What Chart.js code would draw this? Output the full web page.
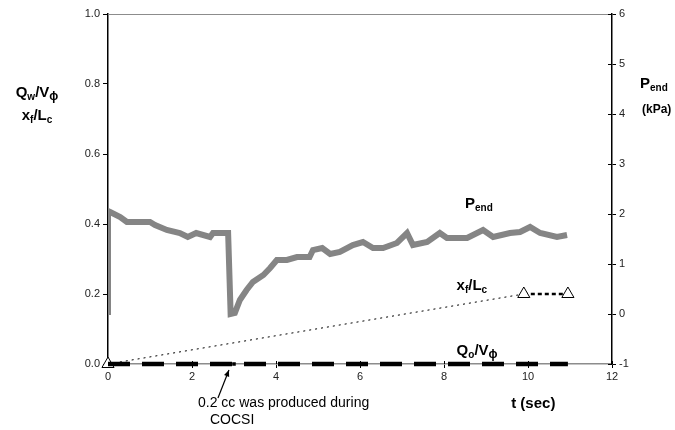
<!DOCTYPE html>
<html>
<head>
<meta charset="utf-8">
<script src="https://cdn.jsdelivr.net/npm/chart.js@4.4.1/dist/chart.umd.min.js"></script>
<style>
  body { margin: 0; background: #fff; }
  #wrap { width: 675px; height: 430px; position: relative; }
</style>
</head>
<body>
<div id="wrap"><canvas id="chart"></canvas></div>
<script>
// P_end (kPa, right axis)
const pendTime = [0, 0, 0.05, 0.29, 0.45, 1.0, 1.12, 1.4, 1.71, 1.9, 2.1, 2.43, 2.5, 2.86, 2.92, 3.02, 3.14, 3.3, 3.45, 3.7, 3.86, 4.02, 4.26, 4.5, 4.8, 4.88, 5.1, 5.29, 5.52, 5.83, 6.07, 6.31, 6.55, 6.88, 7.12, 7.26, 7.6, 7.9, 8.07, 8.55, 8.93, 9.17, 9.57, 9.81, 10.05, 10.29, 10.69, 10.93];
const pendKPa = [-0.02, 2.06, 2.04, 1.94, 1.84, 1.84, 1.78, 1.68, 1.62, 1.54, 1.62, 1.54, 1.62, 1.62, 0.0, 0.02, 0.28, 0.48, 0.64, 0.78, 0.92, 1.08, 1.08, 1.14, 1.14, 1.28, 1.32, 1.2, 1.24, 1.38, 1.44, 1.32, 1.32, 1.42, 1.62, 1.38, 1.44, 1.62, 1.52, 1.52, 1.68, 1.54, 1.62, 1.64, 1.74, 1.62, 1.54, 1.58];

// x_f / L_c (left axis)
const xfTime = [0, 9.9, 10.95];
const xfValue = [0, 0.2, 0.2];

// Q_o / V_phi (left axis), small marker where 0.2 cc came out
const qoTime = [0, 3.0, 10.95];
const qoValue = [0, 0, 0];
const qoMarker = [0, 2.5, 0];

const xTicks = [0, 2, 4, 6, 8, 10, 12];
const leftTicks = [0, 0.2, 0.4, 0.6, 0.8, 1.0];
const rightTicks = [-1, 0, 1, 2, 3, 4, 5, 6];

function toPoints(xs, ys) {
    return xs.map((x, i) => ({ x: x, y: ys[i] }));
}

// draws text pieces like "Q" + subscript "w" + "/V" ...
function drawParts(ctx, parts, x, y, align) {
    let total = 0;
    parts.forEach(p => { ctx.font = p.font; total += ctx.measureText(p.text).width; });
    let cx = align === 'center' ? x - total / 2 : x;
    ctx.textAlign = 'left';
    ctx.textBaseline = 'alphabetic';
    parts.forEach(p => {
        ctx.font = p.font;
        ctx.fillText(p.text, cx, y + (p.dy || 0));
        cx += ctx.measureText(p.text).width;
    });
}

const B15 = 'bold 15px "Liberation Sans", Arial, sans-serif';
const B10 = 'bold 10px "Liberation Sans", Arial, sans-serif';
const B12 = 'bold 12px "Liberation Sans", Arial, sans-serif';

const decorations = {
    id: 'decorations',
    beforeDatasetsDraw(chart) {
        const ctx = chart.ctx;
        const a = chart.chartArea;
        const xs = chart.scales.x, y2 = chart.scales.y2;
        ctx.save();
        // grey frame line on top
        ctx.strokeStyle = '#8c8c8c';
        ctx.lineWidth = 1;
        ctx.beginPath();
        ctx.moveTo(a.left, a.top + 0.5);
        ctx.lineTo(a.right, a.top + 0.5);
        ctx.stroke();
        // inner half of the crossing ticks
        ctx.strokeStyle = '#000';
        ctx.beginPath();
        rightTicks.forEach(v => {
            const py = Math.round(y2.getPixelForValue(v)) + 0.5;
            ctx.moveTo(a.right - 4, py);
            ctx.lineTo(a.right, py);
        });
        xTicks.forEach(v => {
            const px = Math.round(xs.getPixelForValue(v)) + 0.5;
            ctx.moveTo(px, a.bottom - 3);
            ctx.lineTo(px, a.bottom);
        });
        ctx.stroke();
        ctx.restore();
    },
    afterDraw(chart) {
        const ctx = chart.ctx;
        const a = chart.chartArea;
        const xs = chart.scales.x, y = chart.scales.y, y2 = chart.scales.y2;
        ctx.save();
        ctx.fillStyle = '#000';
        // left axis title
        drawParts(ctx, [
            { text: 'Q', font: B15 }, { text: 'w', font: B10, dy: 3 },
            { text: '/V', font: B15 }, { text: '\u03d5', font: B12, dy: 3 }
        ], 37, 97, 'center');
        drawParts(ctx, [
            { text: 'x', font: B15 }, { text: 'f', font: B10, dy: 3 },
            { text: '/L', font: B15 }, { text: 'c', font: B10, dy: 3 }
        ], 37, 120, 'center');
        // right axis title
        drawParts(ctx, [
            { text: 'P', font: B15 }, { text: 'end', font: B10, dy: 3 }
        ], a.right + 28, 88, 'left');
        drawParts(ctx, [{ text: '(kPa)', font: B12 }], a.right + 30, 113, 'left');
        // series labels inside the plot
        drawParts(ctx, [
            { text: 'P', font: B15 }, { text: 'end', font: B10, dy: 3 }
        ], xs.getPixelForValue(8.5), y2.getPixelForValue(2.12), 'left');
        drawParts(ctx, [
            { text: 'x', font: B15 }, { text: 'f', font: B10, dy: 3 },
            { text: '/L', font: B15 }, { text: 'c', font: B10, dy: 3 }
        ], xs.getPixelForValue(8.3), y.getPixelForValue(0.211), 'left');
        drawParts(ctx, [
            { text: 'Q', font: B15 }, { text: 'o', font: B10, dy: 3 },
            { text: '/V', font: B15 }, { text: '\u03d5', font: B12, dy: 3 }
        ], xs.getPixelForValue(8.3), y.getPixelForValue(0.026), 'left');
        // x axis title
        drawParts(ctx, [{ text: 't (sec)', font: B15 }], xs.getPixelForValue(9.6), 408, 'left');
        // annotation with arrow
        const tipX = xs.getPixelForValue(2.88), tipY = a.bottom + 6;
        const tailX = tipX - 11, tailY = tipY + 28;
        ctx.strokeStyle = '#000';
        ctx.lineWidth = 1.2;
        ctx.beginPath();
        ctx.moveTo(tailX, tailY);
        ctx.lineTo(tipX, tipY);
        ctx.stroke();
        const ang = Math.atan2(tipY - tailY, tipX - tailX);
        ctx.beginPath();
        ctx.moveTo(tipX, tipY);
        ctx.lineTo(tipX - 7 * Math.cos(ang - 0.4), tipY - 7 * Math.sin(ang - 0.4));
        ctx.lineTo(tipX - 7 * Math.cos(ang + 0.4), tipY - 7 * Math.sin(ang + 0.4));
        ctx.closePath();
        ctx.fill();
        ctx.font = '14px "Liberation Sans", Arial, sans-serif';
        ctx.textAlign = 'left';
        ctx.fillText('0.2 cc was produced during', 198, 407);
        ctx.fillText('COCSI', 210, 424);
        ctx.restore();
    }
};

const tickFont = { family: '"Liberation Sans", Arial, sans-serif', size: 11 };

new Chart(document.getElementById('chart'), {
    type: 'line',
    data: {
        datasets: [
            {
                label: 'Pend',
                data: toPoints(pendTime, pendKPa),
                yAxisID: 'y2',
                borderColor: '#858585',
                borderWidth: 6,
                pointRadius: 0,
                tension: 0,
                borderJoinStyle: 'miter',
                order: 3
            },
            {
                label: 'xf/Lc',
                data: toPoints(xfTime, xfValue),
                yAxisID: 'y',
                borderColor: '#000',
                borderWidth: 1,
                borderDash: [2, 4],
                segment: {
                    borderWidth: c => c.p0DataIndex === 1 ? 2.5 : 1,
                    borderDash: c => c.p0DataIndex === 1 ? [4, 3] : [2, 4]
                },
                pointStyle: 'triangle',
                pointRadius: 7,
                pointBorderWidth: 1,
                pointBorderColor: '#000',
                pointBackgroundColor: '#fff',
                clip: false,
                order: 2
            },
            {
                label: 'Qo/Vphi',
                data: toPoints(qoTime, qoValue),
                yAxisID: 'y',
                borderColor: '#000',
                borderWidth: 4.5,
                borderDash: [22, 12],
                borderCapStyle: 'butt',
                pointStyle: 'rect',
                pointRadius: qoMarker,
                pointBackgroundColor: '#000',
                pointBorderColor: '#000',
                pointBorderWidth: 0,
                clip: false,
                order: 1
            }
        ]
    },
    options: {
        responsive: true,
        maintainAspectRatio: false,
        animation: false,
        layout: { padding: { top: 14, left: 0, right: 0, bottom: 0 } },
        plugins: {
            legend: { display: false },
            tooltip: { enabled: false }
        },
        scales: {
            x: {
                type: 'linear',
                position: 'bottom',
                min: 0,
                max: 12,
                afterBuildTicks: s => { s.ticks = xTicks.map(v => ({ value: v })); },
                afterFit: s => { s.height = 66; },
                ticks: { font: tickFont, color: '#222', padding: 2 },
                grid: { display: true, drawOnChartArea: false, drawTicks: true, tickLength: 4, color: '#000' },
                border: { display: true, color: '#8c8c8c', width: 1.5 }
            },
            y: {
                position: 'left',
                min: 0,
                max: 1,
                afterBuildTicks: s => { s.ticks = leftTicks.map(v => ({ value: v })); },
                afterFit: s => { s.width = 108; },
                ticks: { font: tickFont, color: '#222', padding: 3, callback: v => v.toFixed(1) },
                grid: { display: true, drawOnChartArea: false, drawTicks: true, tickLength: 5, color: '#000' },
                border: { display: true, color: '#000', width: 1.5 }
            },
            y2: {
                position: 'right',
                min: -1,
                max: 6,
                afterBuildTicks: s => { s.ticks = rightTicks.map(v => ({ value: v })); },
                afterFit: s => { s.width = 63; },
                ticks: { font: tickFont, color: '#222', padding: 3 },
                grid: { display: true, drawOnChartArea: false, drawTicks: true, tickLength: 4, color: '#000' },
                border: { display: true, color: '#000', width: 1.5 }
            }
        }
    },
    plugins: [decorations]
});
</script>
</body>
</html>
